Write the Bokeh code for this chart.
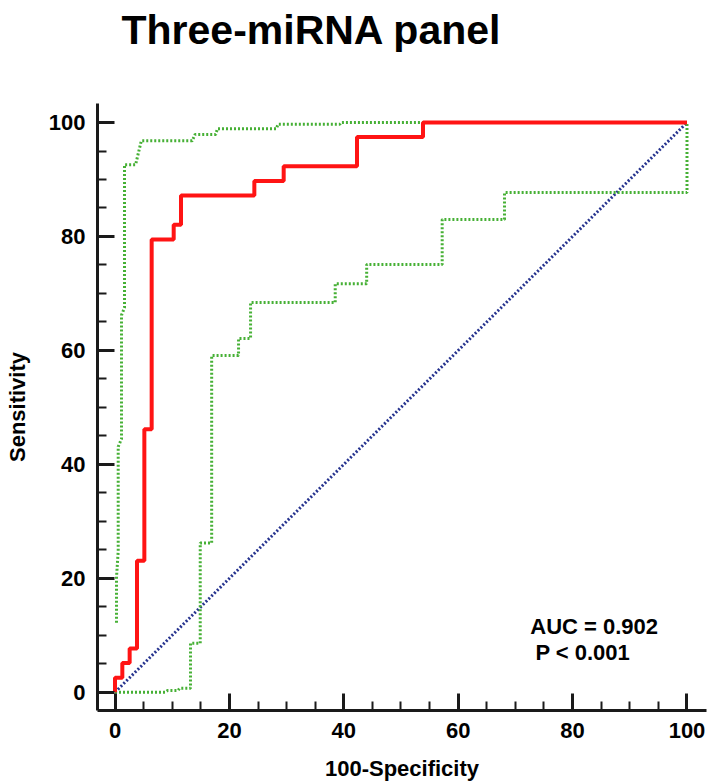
from bokeh.plotting import figure
from bokeh.models import Range1d, SingleIntervalTicker, Label, Title
from bokeh.embed import file_html
from bokeh.resources import INLINE

# ROC curve (100-Specificity, Sensitivity) vertices of the step curve
roc_x = [0, 0, 1.28, 1.28, 2.56, 2.56, 3.85, 3.85, 5.13, 5.13, 6.41, 6.41,
         10.26, 10.26, 11.54, 11.54, 24.36, 24.36, 29.49, 29.49, 42.31, 42.31,
         53.85, 53.85, 100]
roc_y = [0, 2.56, 2.56, 5.13, 5.13, 7.69, 7.69, 23.08, 23.08, 46.15, 46.15, 79.49,
         79.49, 82.05, 82.05, 87.18, 87.18, 89.74, 89.74, 92.31, 92.31, 97.44,
         97.44, 100, 100]

# 95% confidence bounds
ci_upper_x = [0.26, 0.26, 0.56, 0.56, 1.14, 1.14, 1.66, 1.66, 3.6, 4.6, 13.5,
              14.0, 17.6, 17.9, 28.2, 28.5, 39.3, 39.5, 100]
ci_upper_y = [12.2, 20.1, 24.8, 43.1, 44.5, 66.2, 67.5, 92.6, 92.6, 96.8, 96.8,
              97.9, 97.9, 98.9, 98.9, 99.7, 99.7, 100, 100]

ci_lower_x = [0, 8.8, 9.2, 11.0, 11.3, 13.2, 13.2, 14.9, 14.9, 16.9, 16.9, 21.6,
              21.6, 23.7, 23.7, 38.5, 38.5, 44.0, 44.0, 57.2, 57.2, 68.1, 68.1,
              100, 100]
ci_lower_y = [0, 0, 0.3, 0.3, 0.7, 0.7, 8.6, 8.6, 26.2, 26.2, 59.1, 59.1, 62.1,
              62.1, 68.4, 68.4, 71.7, 71.7, 75.1, 75.1, 83.0, 83.0, 87.7, 87.7, 100]

diag_x = [0, 100]
diag_y = [0, 100]

title_text = "Three-miRNA panel"
auc_text = "AUC = 0.902"
p_text = "P < 0.001"

p = figure(width=709, height=783, output_backend="svg", toolbar_location=None,
           x_range=Range1d(-3.06, 103.41), y_range=Range1d(-3.2, 103.34),
           min_border_left=97, min_border_right=3, min_border_top=103,
           min_border_bottom=71)

# spacer between title and plot area, then the title itself
p.add_layout(Title(text=" ", text_font_size="20px", standoff=24), "above")
p.add_layout(Title(text=title_text, text_font="Liberation Sans", text_font_size="41px",
                   text_font_style="bold", text_color="black", align="left",
                   offset=24, standoff=6), "above")

p.outline_line_color = None
p.xgrid.visible = False
p.ygrid.visible = False
p.background_fill_color = "white"
p.border_fill_color = "white"

for ax in (p.xaxis[0], p.yaxis[0]):
    ax.ticker = SingleIntervalTicker(interval=20, num_minor_ticks=4)
    ax.axis_line_width = 3
    ax.axis_line_color = "#1a1a1a"
    ax.major_tick_line_width = 3
    ax.major_tick_line_color = "#1a1a1a"
    ax.minor_tick_line_width = 2
    ax.minor_tick_line_color = "#1a1a1a"
    ax.major_tick_in = 17
    ax.major_tick_out = 0
    ax.minor_tick_in = 9
    ax.minor_tick_out = 0
    ax.major_label_standoff = 12
    ax.major_label_text_font = "Liberation Sans"
    ax.major_label_text_font_style = "bold"
    ax.major_label_text_font_size = "22px"
    ax.major_label_text_color = "black"
    ax.axis_label_text_font = "Liberation Sans"
    ax.axis_label_text_font_style = "bold"
    ax.axis_label_text_font_size = "22px"
    ax.axis_label_text_color = "black"

p.xaxis.axis_label = "100-Specificity"
p.yaxis.axis_label = "Sensitivity"
p.xaxis.axis_label_standoff = 15
p.yaxis.axis_label_standoff = 16

p.line(diag_x, diag_y, line_color="#27348f", line_width=3, line_dash="2 2")
p.line(ci_upper_x, ci_upper_y, line_color="#46b035", line_width=3, line_dash="2 2")
p.line(ci_lower_x, ci_lower_y, line_color="#46b035", line_width=3, line_dash="2 2")
p.line(roc_x, roc_y, line_color="#ff1414", line_width=4)

p.add_layout(Label(x=72.6, y=11.6, text=auc_text, text_font="Liberation Sans",
                   text_font_style="bold", text_font_size="22px", text_color="black",
                   text_baseline="alphabetic", text_align="left"))
p.add_layout(Label(x=73.5, y=7.0, text=p_text, text_font="Liberation Sans",
                   text_font_style="bold", text_font_size="22px", text_color="black",
                   text_baseline="alphabetic", text_align="left"))

open("out.html", "w").write(file_html(p, INLINE))
